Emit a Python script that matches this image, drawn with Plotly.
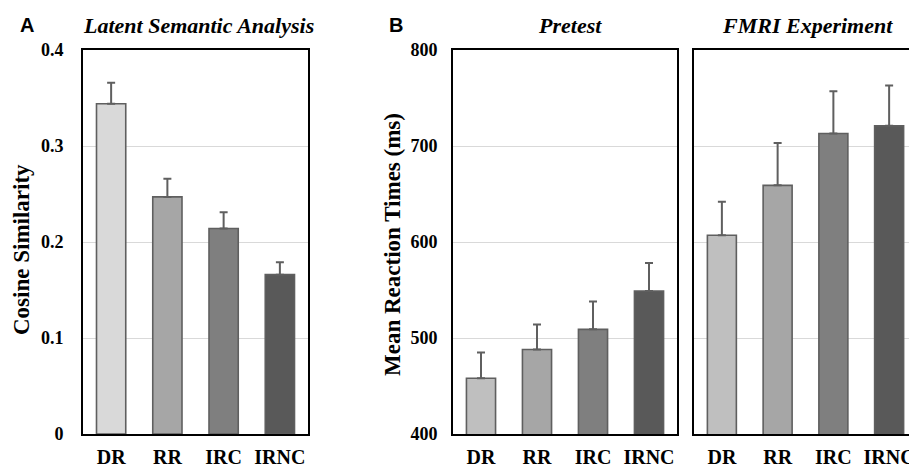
import plotly.graph_objects as go

# ---- data ----
categories = ["DR", "RR", "IRC", "IRNC"]
lsa_mean = [0.344, 0.247, 0.214, 0.166]
lsa_err = [0.022, 0.019, 0.017, 0.013]
pretest_mean = [458, 488, 509, 549]
pretest_err = [27, 26, 29, 29]
fmri_mean = [607, 659, 713, 721]
fmri_err = [35, 44, 44, 42]
lsa_ticks = [0, 0.1, 0.2, 0.3, 0.4]
lsa_ticktext = ["0", "0.1", "0.2", "0.3", "0.4"]
rt_ticks = [400, 500, 600, 700, 800]

colors_a = ["#d9d9d9", "#a6a6a6", "#7f7f7f", "#595959"]
colors_b = ["#bfbfbf", "#a6a6a6", "#7f7f7f", "#595959"]

OFF = 8  # page body margin
W, H = 917 - OFF, 468 - OFF
FONT = "Liberation Serif"
EDGE = "#5f5f5f"


def fx(px):
    return (px - OFF) / W


def fy(py):
    return 1 - (py - OFF) / H


y_dom = [fy(434), fy(50)]


def bar(y, err, colors, xa, ya):
    return go.Bar(
        x=categories, y=y, xaxis=xa, yaxis=ya, width=0.52,
        marker=dict(color=colors, line=dict(color=EDGE, width=1.6)),
        error_y=dict(type="data", array=err, arrayminus=[0] * len(err),
                     symmetric=False, color=EDGE, thickness=2, width=4),
        showlegend=False, hoverinfo="x+y",
    )


fig = go.Figure()
fig.add_trace(bar(lsa_mean, lsa_err, colors_a, "x", "y"))
fig.add_trace(bar(pretest_mean, pretest_err, colors_b, "x2", "y2"))
fig.add_trace(bar(fmri_mean, fmri_err, colors_b, "x3", "y3"))

tickfont_x = dict(family=FONT, size=20, color="black", weight="bold")
tickfont_y = dict(family=FONT, size=18, color="black", weight="bold")

xcommon = dict(showgrid=False, showline=True, linecolor="black", linewidth=2,
               mirror=True, ticks="", tickfont=tickfont_x, ticklabelstandoff=4,
               range=[-0.5, 3.5], fixedrange=True, automargin=False)
ycommon = dict(showgrid=True, gridcolor="#d9d9d9", gridwidth=1, zeroline=False,
               showline=True, linecolor="black", linewidth=2, ticks="",
               tickfont=tickfont_y, domain=y_dom, fixedrange=True, automargin=False)

fig.update_layout(
    width=W, height=H,
    margin=dict(l=0, r=0, t=0, b=0, pad=0, autoexpand=False),
    paper_bgcolor="white", plot_bgcolor="white",
    xaxis=dict(domain=[fx(83), fx(308)], anchor="y", **xcommon),
    xaxis2=dict(domain=[fx(453), fx(677)], anchor="y2", **xcommon),
    xaxis3=dict(domain=[fx(694), 1.0], anchor="y3", **xcommon),
    yaxis=dict(anchor="x", range=[0, 0.4], tickvals=lsa_ticks, ticktext=lsa_ticktext,
               mirror=True, ticklabelstandoff=14, **ycommon),
    yaxis2=dict(anchor="x2", range=[400, 800], tickvals=rt_ticks,
                mirror=True, ticklabelstandoff=10, **ycommon),
    yaxis3=dict(anchor="x3", range=[400, 800], tickvals=rt_ticks,
                showticklabels=False, mirror=False, **ycommon),
)


def ann(text, x, y, size, italic=False, angle=0, family=FONT):
    t = f"<i>{text}</i>" if italic else text
    fig.add_annotation(text=t, x=fx(x), y=fy(y), xref="paper", yref="paper",
                       showarrow=False, textangle=angle, xanchor="center", yanchor="middle",
                       font=dict(family=family, size=size, color="black", weight="bold"))


ann("A", 27, 25, 20, family="Liberation Sans")
ann("B", 396, 25, 20, family="Liberation Sans")
ann("Latent Semantic Analysis", 198, 25, 22, italic=True)
ann("Pretest", 570, 25, 22, italic=True)
ann("FMRI Experiment", 807, 25, 22, italic=True)
ann("Cosine Similarity", 22, 250, 23, angle=-90)
ann("Mean Reaction Times (ms)", 392, 245, 23, angle=-90)

fig.write_html("out.html", config={"responsive": False})
